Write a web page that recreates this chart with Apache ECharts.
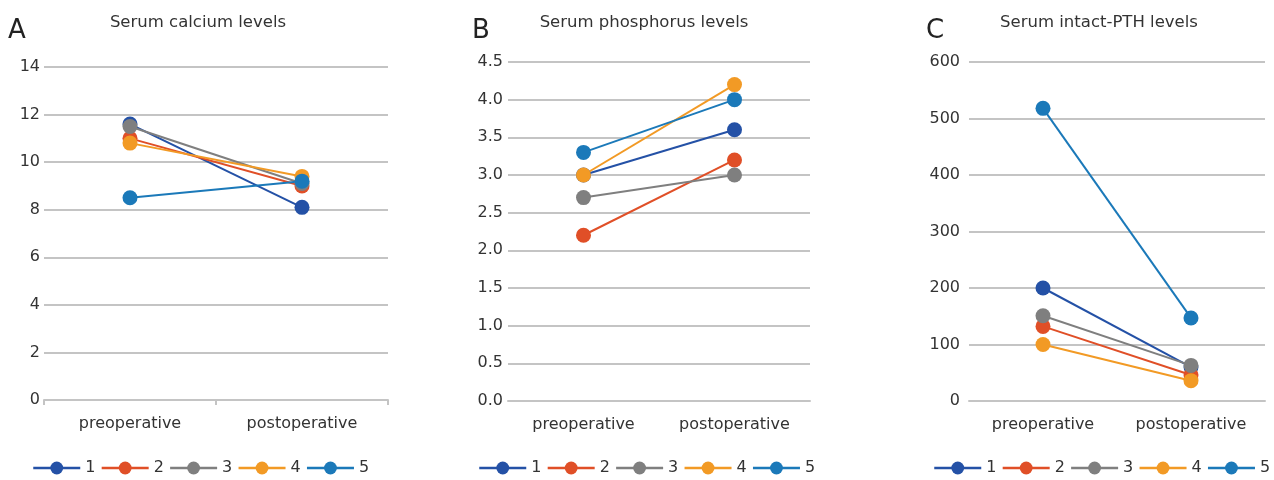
<!DOCTYPE html>
<html>
<head>
<meta charset="utf-8">
<title>Serum levels</title>
<script src="https://cdn.jsdelivr.net/npm/echarts@6/dist/echarts.min.js"></script>
<style>
  html, body { margin: 0; padding: 0; background: #fff; }
  #chart { width: 1274px; height: 480px; }
</style>
</head>
<body>
<div id="chart"></div>
<script>
// categories and series names
var categories = ["preoperative", "postoperative"];
var seriesNames = ["1", "2", "3", "4", "5"];

// A: serum calcium
var calcium1 = [11.6, 8.1];
var calcium2 = [11.0, 9.0];
var calcium3 = [11.5, 9.1];
var calcium4 = [10.8, 9.4];
var calcium5 = [8.5, 9.2];

// B: serum phosphorus
var phosphorus1 = [3.0, 3.6];
var phosphorus2 = [2.2, 3.2];
var phosphorus3 = [2.7, 3.0];
var phosphorus4 = [3.0, 4.2];
var phosphorus5 = [3.3, 4.0];

// C: serum intact-PTH
var pth1 = [200, 60];
var pth2 = [132, 46];
var pth3 = [151, 63];
var pth4 = [100, 36];
var pth5 = [518, 147];

var panelLetters = ["A", "B", "C"];
var panelTitles = ["Serum calcium levels", "Serum phosphorus levels", "Serum intact-PTH levels"];

var colors = ["#2451a6", "#e04f27", "#7f7f7f", "#f29a25", "#1b79b9"];
var fontFamily = "DejaVu Sans";
var gridColor = "#c4c4c4";

var panelData = [
  [calcium1, calcium2, calcium3, calcium4, calcium5],
  [phosphorus1, phosphorus2, phosphorus3, phosphorus4, phosphorus5],
  [pth1, pth2, pth3, pth4, pth5]
];

// layout of the three panels
var grids = [
  { left: 44, top: 67, width: 344, height: 333 },
  { left: 508, top: 62, width: 302, height: 339 },
  { left: 969, top: 62, width: 296, height: 339 }
];
var yRanges = [
  { max: 14, interval: 2, margin: 4, digits: 0 },
  { max: 4.5, interval: 0.5, margin: 5, digits: 1 },
  { max: 600, interval: 100, margin: 9, digits: 0 }
];
var letterPos = [8, 472, 926];
var titleCenters = [198, 644, 1099];
var legendLeft = [32, 478, 933];

var chart = echarts.init(document.getElementById("chart"));

var titles = [];
var xAxes = [];
var yAxes = [];
var legends = [];
var series = [];

for (var p = 0; p < 3; p++) {
  titles.push({
    text: panelLetters[p],
    left: letterPos[p],
    top: 18,
    padding: 0,
    textStyle: { fontFamily: fontFamily, fontSize: 26, fontWeight: "normal", color: "#222" }
  });
  titles.push({
    text: panelTitles[p],
    left: titleCenters[p],
    top: 14,
    padding: 0,
    textAlign: "center",
    textStyle: { fontFamily: fontFamily, fontSize: 16.5, fontWeight: "normal", color: "#333" }
  });

  xAxes.push({
    type: "category",
    gridIndex: p,
    data: categories,
    boundaryGap: true,
    axisLine: { show: true, lineStyle: { color: gridColor, width: 2 } },
    axisTick: { show: p === 0, length: 5, lineStyle: { color: gridColor, width: 2 } },
    axisLabel: { fontFamily: fontFamily, fontSize: 16, color: "#333", margin: 16 },
    splitLine: { show: false }
  });

  (function (r) {
    yAxes.push({
      type: "value",
      gridIndex: p,
      min: 0,
      max: r.max,
      interval: r.interval,
      axisLine: { show: false },
      axisTick: { show: false },
      splitLine: { show: true, lineStyle: { color: gridColor, width: 2 } },
      axisLabel: {
        fontFamily: fontFamily,
        fontSize: 16,
        color: "#333",
        margin: r.margin,
        formatter: function (v) { return v.toFixed(r.digits); }
      }
    });
  })(yRanges[p]);

  legends.push({
    data: seriesNames,
    left: legendLeft[p],
    top: 460,
    padding: 0,
    width: 400,
    itemWidth: 47,
    itemHeight: 16,
    itemGap: 5,
    lineStyle: { width: 2.5 },
    textStyle: { fontFamily: fontFamily, fontSize: 16, color: "#333" }
  });

  for (var s = 0; s < 5; s++) {
    series.push({
      name: seriesNames[s],
      type: "line",
      xAxisIndex: p,
      yAxisIndex: p,
      data: panelData[p][s],
      symbol: "circle",
      symbolSize: 15,
      color: colors[s],
      lineStyle: { width: 2 },
      emphasis: { disabled: true },
      animation: false
    });
  }
}

chart.setOption({
  animation: false,
  color: colors,
  title: titles,
  grid: grids,
  xAxis: xAxes,
  yAxis: yAxes,
  legend: legends,
  series: series
});
</script>
</body>
</html>
